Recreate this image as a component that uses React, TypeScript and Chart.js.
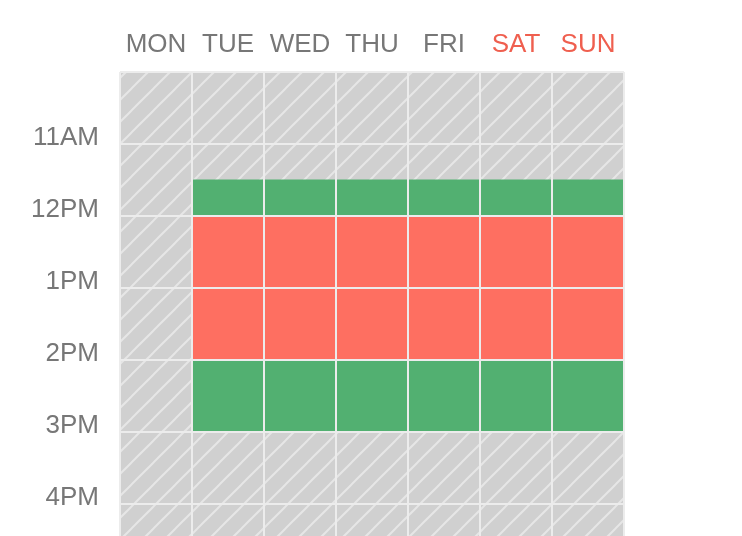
import React, { useEffect, useRef } from "react";
import { Chart, registerables } from "chart.js";

Chart.register(...registerables);

const days = ["MON", "TUE", "WED", "THU", "FRI", "SAT", "SUN"];
const dayColors = ["#777777", "#777777", "#777777", "#777777", "#777777", "#ef5f4f", "#ef5f4f"];
// hour value -> label (10 = 10AM); 10AM label is left blank in the reference
const hourTicks = [10, 11, 12, 13, 14, 15, 16];
const hourLabels = ["", "11AM", "12PM", "1PM", "2PM", "3PM", "4PM"];

// unavailable background span (hours) per day
const backgroundSpan: ([number, number] | null)[] = [
  [10, 18], [10, 18], [10, 18], [10, 18], [10, 18], [10, 18], [10, 18],
];
// green block 11:30 - 12:00
const greenMorning: ([number, number] | null)[] = [
  null, [11.5, 12], [11.5, 12], [11.5, 12], [11.5, 12], [11.5, 12], [11.5, 12],
];
// red block 12:00 - 14:00
const redBlock: ([number, number] | null)[] = [
  null, [12, 14], [12, 14], [12, 14], [12, 14], [12, 14], [12, 14],
];
// green block 14:00 - 15:00
const greenAfternoon: ([number, number] | null)[] = [
  null, [14, 15], [14, 15], [14, 15], [14, 15], [14, 15], [14, 15],
];

const FONT = "'Helvetica Neue', Helvetica, Arial, 'Liberation Sans', sans-serif";
const GREEN = "#52b071";
const RED = "#fe6f61";
const GRID = "#ececec";

function makeHatch(ctx: CanvasRenderingContext2D): CanvasPattern | string {
  const size = 22;
  const c = document.createElement("canvas");
  c.width = size;
  c.height = size;
  const p = c.getContext("2d");
  if (!p) return "#d0d0d0";
  p.fillStyle = "#d0d0d0";
  p.fillRect(0, 0, size, size);
  p.strokeStyle = "#e6e6e6";
  p.lineWidth = 2;
  p.beginPath();
  p.moveTo(-2, size + 2);
  p.lineTo(size + 2, -2);
  p.moveTo(-2 - size, size + 2);
  p.lineTo(2, -2);
  p.moveTo(size - 2, size + 2);
  p.lineTo(size + size + 2, -2);
  p.stroke();
  return ctx.createPattern(c, "repeat") || "#d0d0d0";
}

export default function App() {
  const canvasRef = useRef<HTMLCanvasElement | null>(null);

  useEffect(() => {
    const canvas = canvasRef.current;
    if (!canvas) return;
    const ctx = canvas.getContext("2d");
    if (!ctx) return;
    const hatch = makeHatch(ctx);

    const common = {
      grouped: false,
      barPercentage: 1,
      categoryPercentage: 1,
      borderWidth: 0,
      borderSkipped: false,
    };

    const chart = new Chart(canvas, {
      type: "bar",
      data: {
        labels: days,
        datasets: [
          { ...common, label: "bg", data: backgroundSpan as any, backgroundColor: hatch as any, order: 4 },
          { ...common, label: "g1", data: greenMorning as any, backgroundColor: GREEN, order: 3 },
          { ...common, label: "r", data: redBlock as any, backgroundColor: RED, order: 2 },
          { ...common, label: "g2", data: greenAfternoon as any, backgroundColor: GREEN, order: 1 },
        ],
      },
      options: {
        animation: false,
        responsive: false,
        devicePixelRatio: 1,
        layout: { padding: { left: 0, right: 118, top: 0, bottom: 0 } },
        plugins: {
          legend: { display: false },
          tooltip: { enabled: false },
        },
        scales: {
          x: {
            position: "top",
            offset: true,
            grid: { display: true, offset: true, color: GRID, lineWidth: 2, drawTicks: false, z: 1 },
            border: { display: false },
            ticks: {
              padding: 12,
              color: (c: any) => dayColors[c.index] || "#777777",
              font: { family: FONT, size: 26 },
              maxRotation: 0,
              autoSkip: false,
            },
            afterFit: (scale: any) => {
              scale.height = 72;
              scale.paddingLeft = 0;
              scale.paddingRight = 0;
            },
          },
          y: {
            type: "linear",
            reverse: true,
            min: 10,
            max: 16.45,
            grid: { color: GRID, lineWidth: 2, drawTicks: false, z: 1 },
            border: { display: false },
            afterBuildTicks: (scale: any) => {
              scale.ticks = hourTicks.map((v) => ({ value: v }));
            },
            ticks: {
              padding: 21,
              labelOffset: -6,
              color: "#777777",
              font: { family: FONT, size: 26 },
              callback: (v: any) => {
                const i = hourTicks.indexOf(Number(v));
                return i >= 0 ? hourLabels[i] : "";
              },
            },
            afterFit: (scale: any) => {
              scale.width = 120;
              scale.paddingTop = 0;
              scale.paddingBottom = 0;
            },
          },
        },
      },
    });
    return () => chart.destroy();
  }, []);

  return (
    <div style={{ position: "fixed", left: 0, top: 0, width: 742, height: 536, overflow: "hidden", background: "#fff" }}>
      <canvas ref={canvasRef} width={742} height={536} style={{ display: "block", width: 742, height: 536 }} />
    </div>
  );
}
